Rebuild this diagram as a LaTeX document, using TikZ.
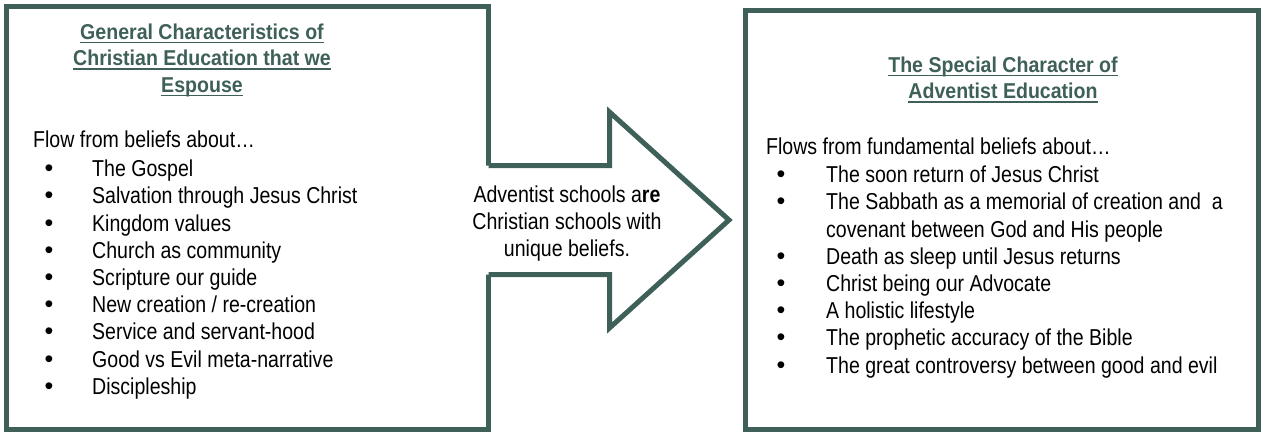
\documentclass[tikz,border=0pt]{standalone}
\usepackage{fontspec}
\setmainfont[FakeStretch=0.85]{Liberation Sans}
\newfontfamily\titlefont[FakeStretch=0.91]{Liberation Sans}
\newfontfamily\bulletfont{Liberation Sans}
\definecolor{frame}{RGB}{62,96,88}
\begin{document}
\begin{tikzpicture}[x=1pt,y=-1pt,
  body/.style={anchor=base west,inner sep=0pt,font=\fontsize{23}{27}\selectfont},
  mid/.style={anchor=base,inner sep=0pt,font=\fontsize{23}{27}\selectfont},
  bul/.style={anchor=base,inner sep=0pt,font=\bulletfont\fontsize{25}{27}\selectfont},
  ttl/.style={anchor=base,inner sep=0pt,text=frame,font=\titlefont\bfseries\fontsize{21.5}{26}\selectfont},
  uline/.style={draw=frame,line width=1.6pt},
  frm/.style={draw=frame,line width=5pt}]
\useasboundingbox (0,0) rectangle (1265,432);
% boxes
\draw[frm] (6.5,6.5) rectangle (488.5,429.5);
\draw[frm] (745,10) rectangle (1258,429.5);
% arrow
\coordinate (a1) at (488.5,165.5);
\coordinate (a2) at (609.5,165.5);
\coordinate (a3) at (609.5,112);
\coordinate (a4) at (729,220);
\coordinate (a5) at (609.5,328);
\coordinate (a6) at (609.5,274.5);
\coordinate (a7) at (488.5,274.5);
\fill[white] ([xshift=-3pt]a1) -- (a2) -- (a3) -- (a4) -- (a5) -- (a6) -- ([xshift=-3pt]a7) -- cycle;
\draw[frm,line join=miter] (a1) -- (a2) -- (a3) -- (a4) -- (a5) -- (a6) -- (a7);
% arrow text
\node[mid] (m1) at (567,202.5) {Adventist schools a\textbf{re}};
\node[mid] (m2) at (567,229.5) {Christian schools with};
\node[mid] (m3) at (567,256.5) {unique beliefs.};
% left title
\node[ttl] (lt1) at (202,39) {General Characteristics of};
\node[ttl] (lt2) at (202,65.5) {Christian Education that we};
\node[ttl] (lt3) at (202,92) {Espouse};
\foreach \n in {lt1,lt2,lt3}{\draw[uline] ([yshift=-3.5pt]\n.base west) -- ([yshift=-3.5pt]\n.base east);}
% right title
\node[ttl] (rt1) at (1003,72) {The Special Character of};
\node[ttl] (rt2) at (1003,98.5) {Adventist Education};
\foreach \n in {rt1,rt2}{\draw[uline] ([yshift=-3.5pt]\n.base west) -- ([yshift=-3.5pt]\n.base east);}
% left body
\node[body] (lf) at (33,147) {Flow from beliefs about…};
\foreach \t [count=\i from 0] in {The Gospel,Salvation through Jesus Christ,Kingdom values,Church as community,Scripture our guide,New creation / re-creation,Service and servant-hood,Good vs Evil meta-narrative,Discipleship}{
  \node[bul] (lb\i) at (49,176.7+27.2*\i) {•};
  \node[body] (li\i) at (92,176.7+27.2*\i) {\t};
}
% right body
\node[body] (rf) at (766,154) {Flows from fundamental beliefs about…};
\foreach \t/\b [count=\i from 0] in {The soon return of Jesus Christ/1,The Sabbath as a memorial of creation and \ a/1,covenant between God and His people/0,Death as sleep until Jesus returns/1,Christ being our Advocate/1,A holistic lifestyle/1,The prophetic accuracy of the Bible/1,The great controversy between good and evil/1}{
  \ifnum\b=1 \node[bul] (rb\i) at (781,182.7+27.2*\i) {•};\fi
  \node[body] (ri\i) at (826,182.7+27.2*\i) {\t};
}
\end{tikzpicture}
\end{document}
